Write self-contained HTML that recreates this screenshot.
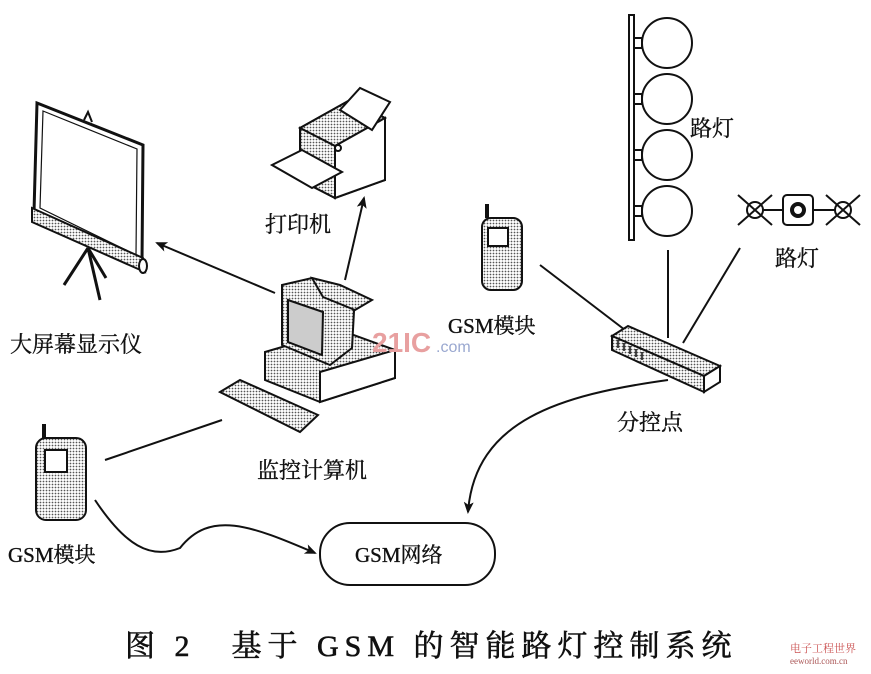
<!DOCTYPE html>
<html><head><meta charset="utf-8"><style>
html,body{margin:0;padding:0;background:#fff}
svg{display:block}
text{font-family:"Liberation Serif","Noto Serif CJK SC","Noto Sans CJK SC",serif;fill:#111;stroke:#111;stroke-width:0.35}
</style></head><body>
<svg width="871" height="674" viewBox="0 0 871 674" xmlns="http://www.w3.org/2000/svg">
<defs>
<pattern id="dots" width="3" height="3" patternUnits="userSpaceOnUse"><rect width="3" height="3" fill="#fff"/><circle cx="1.5" cy="1.5" r="0.9" fill="#555"/></pattern>
<marker id="ar" markerWidth="12" markerHeight="10" refX="10" refY="5" orient="auto" markerUnits="userSpaceOnUse"><path d="M0,0 L12,5 L0,10 L3,5 Z" fill="#111"/></marker>
</defs>
<g stroke="#111" fill="none" stroke-width="2">
<polygon points="37,103 143,145 142,262 34,212" fill="#fff" stroke-width="3"/>
<polygon points="43,111 137,149 136,255 40,208" stroke-width="1.2"/>
<path d="M84,120 l4,-8 l4,10"/>
<polygon points="32,208 143,258 145,272 32,222" fill="url(#dots)"/>
<ellipse cx="143" cy="266" rx="4" ry="7" fill="#fff"/>
<path d="M88,248 L100,300 M88,248 L64,285 M88,248 L106,278" stroke-width="3"/>
<polygon points="300,128 350,100 385,118 385,180 335,198 300,180" fill="#fff"/>
<polygon points="300,128 350,100 385,118 335,146" fill="url(#dots)"/>
<polygon points="335,146 385,118 385,180 335,198" fill="#fff"/>
<polygon points="300,128 335,146 335,198 300,180" fill="url(#dots)"/>
<polygon points="340,110 360,88 390,102 372,130" fill="#fff"/>
<polygon points="272,165 302,150 342,172 312,188" fill="#fff"/>
<circle cx="338" cy="148" r="3"/>
<polygon points="265,352 340,330 395,350 395,378 320,402 265,380" fill="url(#dots)"/>
<polygon points="320,372 395,350 395,378 320,402" fill="#fff"/>
<polygon points="282,285 312,278 355,293 352,348 330,365 282,345" fill="url(#dots)"/>
<polygon points="288,300 323,312 322,355 288,342" fill="#ccc"/>
<polygon points="312,278 340,285 372,300 355,310 323,297" fill="url(#dots)"/>
<polygon points="220,392 240,380 318,415 300,432" fill="url(#dots)"/>
<rect x="36" y="438" width="50" height="82" rx="10" fill="url(#dots)"/>
<rect x="45" y="450" width="22" height="22" fill="#fff"/>
<line x1="44" y1="438" x2="44" y2="424" stroke-width="4"/>
<rect x="482" y="218" width="40" height="72" rx="9" fill="url(#dots)"/>
<rect x="488" y="228" width="20" height="18" fill="#fff"/>
<line x1="487" y1="218" x2="487" y2="204" stroke-width="4"/>
<rect x="629" y="15" width="5" height="225" fill="#fff"/>
<g fill="#fff">
<rect x="634" y="38" width="8" height="10"/><circle cx="667" cy="43" r="25"/>
<rect x="634" y="94" width="8" height="10"/><circle cx="667" cy="99" r="25"/>
<rect x="634" y="150" width="8" height="10"/><circle cx="667" cy="155" r="25"/>
<rect x="634" y="206" width="8" height="10"/><circle cx="667" cy="211" r="25"/>
</g>
<line x1="755" y1="210" x2="840" y2="210"/>
<circle cx="755" cy="210" r="8" fill="#fff"/><circle cx="843" cy="210" r="8" fill="#fff"/>
<path d="M738,195 L772,225 M738,225 L772,195 M826,195 L860,225 M826,225 L860,195"/>
<rect x="783" y="195" width="30" height="30" rx="4" fill="#fff"/>
<circle cx="798" cy="210" r="6" stroke-width="4"/>
<line x1="540" y1="265" x2="625" y2="330"/>
<line x1="668" y1="250" x2="668" y2="338"/>
<line x1="740" y1="248" x2="683" y2="343"/>
<polygon points="612,336 628,326 720,366 704,376" fill="url(#dots)"/>
<polygon points="612,336 704,376 704,392 612,350" fill="url(#dots)"/>
<polygon points="704,376 720,366 720,382 704,392" fill="#fff"/>
<g stroke-width="1.5"><path d="M618,340 v8 M624,343 v8 M630,346 v8 M636,349 v8 M642,352 v8"/></g>
<line x1="275" y1="293" x2="157" y2="243" marker-end="url(#ar)"/>
<line x1="345" y1="280" x2="364" y2="198" marker-end="url(#ar)"/>
<line x1="105" y1="460" x2="222" y2="420"/>
<path d="M668,380 C560,395 475,420 468,512" marker-end="url(#ar)"/>
<path d="M95,500 C125,545 150,560 180,548 C210,510 250,525 315,553" marker-end="url(#ar)"/>
<rect x="320" y="523" width="175" height="62" rx="30" fill="#fff"/>
</g>
<text x="10" y="352" font-size="22">大屏幕显示仪</text>
<text x="265" y="232" font-size="22">打印机</text>
<text x="257" y="478" font-size="22">监控计算机</text>
<text x="8" y="562" font-size="21">GSM模块</text>
<text x="448" y="333" font-size="21">GSM模块</text>
<text x="690" y="136" font-size="22">路灯</text>
<text x="775" y="266" font-size="22">路灯</text>
<text x="617" y="430" font-size="22">分控点</text>
<text x="355" y="562" font-size="21">GSM网络</text>
<text x="372" y="352" font-size="28" font-weight="bold" style="fill:#e8a0a0;stroke:none;font-family:'Liberation Sans',sans-serif">21IC</text>
<text x="436" y="352" font-size="16" style="fill:#9aa8d0;stroke:none;font-family:'Liberation Sans',sans-serif">.com</text>
<text x="125" y="656" font-size="30" letter-spacing="6" style="stroke-width:0.6">图 2　基于 GSM 的智能路灯控制系统</text>
<text x="790" y="652" font-size="11" style="fill:#c55;stroke:none">电子工程世界</text>
<text x="790" y="664" font-size="9" style="fill:#a55;stroke:none">eeworld.com.cn</text>
</svg>
</body></html>
